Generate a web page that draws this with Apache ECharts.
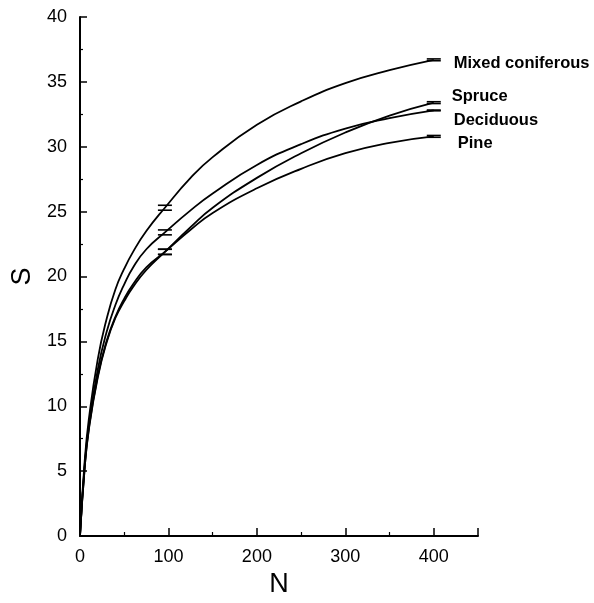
<!DOCTYPE html>
<html>
<head>
<meta charset="utf-8">
<script src="https://cdn.jsdelivr.net/npm/echarts@6/dist/echarts.min.js"></script>
<style>
  html, body { margin: 0; padding: 0; background: #fff; }
  #main { width: 594px; height: 603px; }
</style>
</head>
<body>
<div id="main"></div>
<script>
// sample sizes (N) along the curves
const sampleN = [0, 5, 10, 20, 30, 40, 50, 60, 75, 96, 125, 150, 200, 250, 300, 350, 400];

// species counts S
const mixedS     = [0, 5.5, 9.0, 13.6, 16.7, 19.0, 20.6, 21.9, 23.5, 25.3, 27.6, 29.2, 31.7, 33.5, 34.9, 35.9, 36.7];
const spruceS    = [0, 5.0, 8.2, 12.2, 14.9, 16.8, 18.1, 19.2, 20.5, 21.9, 23.8, 25.3, 27.6, 29.5, 31.1, 32.4, 33.4];
const deciduousS = [0, 5.2, 8.5, 12.8, 15.7, 17.8, 19.4, 20.7, 22.1, 23.4, 25.1, 26.4, 28.6, 30.2, 31.4, 32.2, 32.8];
const pineS      = [0, 5.0, 8.3, 12.3, 15.0, 16.9, 18.3, 19.4, 20.7, 21.9, 23.6, 24.9, 26.8, 28.3, 29.5, 30.3, 30.8];

const seriesNames = ['Mixed coniferous', 'Spruce', 'Deciduous', 'Pine'];
const seriesValues = [mixedS, spruceS, deciduousS, pineS];

// error bars (mean +- half) at N = 96 and N = 400
const errN = [96, 96, 96, 96, 400, 400, 400, 400];
const errMean = [25.3, 23.4, 21.9, 21.9, 36.7, 33.4, 32.8, 30.8];
const errHalf = [0.19, 0.19, 0.2, 0.2, 0.07, 0.07, 0.03, 0.07];

// label offsets from the end of each curve
const labelOffsets = [[20, 4], [18, -6], [20, 10], [24, 7]];

const myChart = echarts.init(document.getElementById('main'));

const lineSeries = seriesNames.map(function (name, i) {
  return {
    name: name,
    type: 'line',
    data: sampleN.map(function (n, j) { return [n, seriesValues[i][j]]; }),
    smooth: 0.5,
    showSymbol: false,
    lineStyle: { color: '#000', width: 1.8 },
    endLabel: {
      show: true,
      formatter: '{a}',
      distance: 0,
      offset: labelOffsets[i],
      overflow: 'none',
      fontFamily: 'Liberation Sans',
      fontWeight: 'bold',
      fontSize: 16.5,
      color: '#000'
    },
    z: 3
  };
});

const errData = errN.map(function (n, i) {
  return [n, errMean[i] - errHalf[i], errMean[i] + errHalf[i]];
});

const option = {
  backgroundColor: '#fff',
  animation: false,
  grid: { left: 80, right: 116, top: 17, bottom: 67 },
  xAxis: {
    type: 'value',
    min: 0,
    max: 450,
    interval: 100,
    name: 'N',
    nameLocation: 'middle',
    nameGap: 26,
    nameTextStyle: { fontFamily: 'Liberation Sans', fontSize: 27, color: '#000' },
    axisLine: { lineStyle: { color: '#000', width: 2 } },
    axisTick: { inside: true, length: 8, lineStyle: { color: '#000', width: 1.5 } },
    minorTick: { show: true, splitNumber: 2, length: 4, lineStyle: { color: '#000', width: 1.2 } },
    splitLine: { show: false },
    axisLabel: {
      margin: 12,
      fontFamily: 'Liberation Sans',
      fontSize: 18,
      color: '#000',
      formatter: function (v) { return v % 100 === 0 ? String(v) : ''; }
    }
  },
  yAxis: {
    type: 'value',
    min: 0,
    max: 40,
    interval: 5,
    name: 'S',
    nameLocation: 'middle',
    nameGap: 44,
    nameTextStyle: { fontFamily: 'Liberation Sans', fontSize: 27, color: '#000' },
    axisLine: { lineStyle: { color: '#000', width: 2 } },
    axisTick: { inside: true, length: 7, lineStyle: { color: '#000', width: 1.5 } },
    minorTick: { show: true, splitNumber: 2, length: 3, lineStyle: { color: '#000', width: 1.2 } },
    splitLine: { show: false },
    axisLabel: { margin: 13, fontFamily: 'Liberation Sans', fontSize: 18, color: '#000' }
  },
  series: lineSeries.concat([{
    type: 'custom',
    data: errData,
    z: 4,
    renderItem: function (params, api) {
      const x = api.value(0);
      const lo = api.coord([x, api.value(1)]);
      const hi = api.coord([x, api.value(2)]);
      const w = 7;
      return {
        type: 'group',
        children: [
          { type: 'line', shape: { x1: lo[0] - w, y1: lo[1], x2: lo[0] + w, y2: lo[1] }, style: { stroke: '#000', lineWidth: 1.6 } },
          { type: 'line', shape: { x1: hi[0] - w, y1: hi[1], x2: hi[0] + w, y2: hi[1] }, style: { stroke: '#000', lineWidth: 1.6 } }
        ]
      };
    }
  }])
};

myChart.setOption(option);
</script>
</body>
</html>
